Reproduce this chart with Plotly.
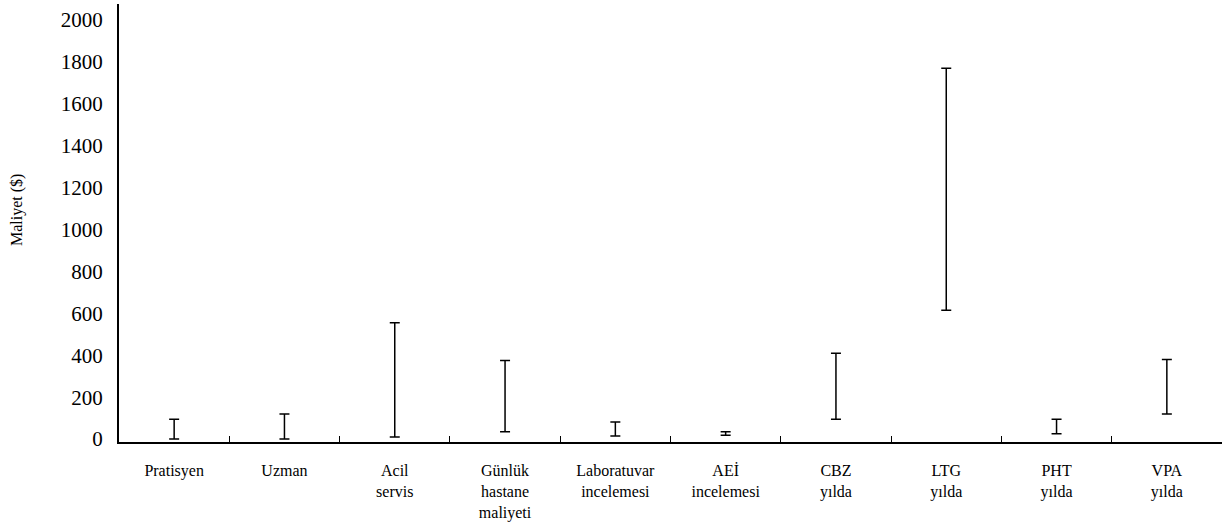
import plotly.graph_objects as go

categories = ["Pratisyen", "Uzman", "Acil<br>servis", "Günlük<br>hastane<br>maliyeti",
              "Laboratuvar<br>incelemesi", "AEİ<br>incelemesi", "CBZ<br>yılda",
              "LTG<br>yılda", "PHT<br>yılda", "VPA<br>yılda"]
low_cost = [0, 0, 10, 35, 15, 18, 95, 615, 25, 120]
high_cost = [95, 120, 555, 375, 82, 35, 410, 1770, 95, 380]
y_ticks = [0, 200, 400, 600, 800, 1000, 1200, 1400, 1600, 1800, 2000]

xpos = list(range(len(categories)))
serif = "Liberation Serif"

fig = go.Figure()
fig.add_trace(go.Scatter(
    x=xpos, y=low_cost, mode="markers",
    marker=dict(size=1, color="rgba(0,0,0,0)"),
    error_y=dict(type="data", symmetric=False,
                 array=[h - l for h, l in zip(high_cost, low_cost)],
                 arrayminus=[0] * len(low_cost),
                 color="black", thickness=1.5, width=5),
    showlegend=False, hoverinfo="skip"))
# invisible trace on label axis
fig.add_trace(go.Scatter(x=xpos, y=low_cost, xaxis="x2", mode="markers",
                         marker=dict(size=1, color="rgba(0,0,0,0)"),
                         showlegend=False, hoverinfo="skip"))

fig.update_layout(
    width=1227, height=522,
    margin=dict(l=119, r=5, t=4, b=80, autoexpand=False),
    paper_bgcolor="white", plot_bgcolor="white",
    font=dict(family=serif, color="black"),
    xaxis=dict(range=[-0.5, 9.5], tickvals=[i + 0.5 for i in range(10)],
               showticklabels=False, ticks="inside", ticklen=6, tickwidth=1,
               tickcolor="black", showline=True, linecolor="black", linewidth=1.5,
               showgrid=False, zeroline=False, automargin=False),
    xaxis2=dict(range=[-0.5, 9.5], overlaying="x", side="bottom",
                tickvals=xpos, ticktext=categories, ticks="",
                showline=False, showgrid=False, zeroline=False, automargin=False,
                tickfont=dict(family=serif, size=16, color="black"),
                ticklabelstandoff=17),
    yaxis=dict(range=[-14, 2076], tickvals=y_ticks, ticks="",
               showline=True, linecolor="black", linewidth=2,
               showgrid=False, zeroline=False, automargin=False,
               tickfont=dict(family=serif, size=21, color="black"),
               ticklabelstandoff=10),
    annotations=[dict(text="Maliyet ($)", textangle=-90, xref="paper", yref="paper",
                      x=(17 - 119) / 1103, y=(442 - 210) / 438,
                      xanchor="center", yanchor="middle",
                      showarrow=False, font=dict(family=serif, size=16, color="black"))],
)

fig.write_html("out.html", config={"displayModeBar": False},
               post_script="document.body.style.margin='0';")
